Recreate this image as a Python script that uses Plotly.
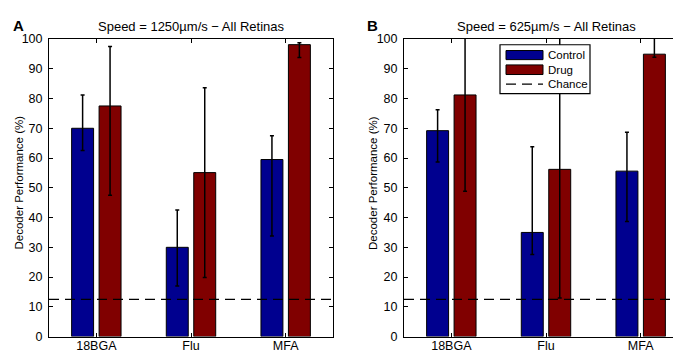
import plotly.graph_objects as go

categories = ["18BGA", "Flu", "MFA"]
cat_pos = [1, 2, 3]

# Panel A: Speed = 1250 um/s
a_control = [70.0, 30.0, 59.5]
a_control_hi = [81.2, 42.5, 67.5]
a_control_lo = [62.5, 17.0, 33.8]
a_drug = [77.5, 55.1, 98.1]
a_drug_hi = [97.5, 83.6, 98.7]
a_drug_lo = [47.5, 19.9, 93.8]

# Panel B: Speed = 625 um/s
b_control = [69.2, 35.0, 55.6]
b_control_hi = [76.2, 63.8, 68.7]
b_control_lo = [58.7, 27.6, 38.7]
b_drug = [81.2, 56.2, 94.9]
b_drug_hi = [106.0, 106.0, 106.0]
b_drug_lo = [48.8, 13.0, 93.9]

chance = 12.5

titles = ["Speed = 1250\u00b5m/s \u2212 All Retinas", "Speed = 625\u00b5m/s \u2212 All Retinas"]
panel_letters = ["A", "B"]
y_title = "Decoder Performance (%)"
y_ticks = [0, 10, 20, 30, 40, 50, 60, 70, 80, 90, 100]

BLUE = "#00008F"
RED = "#800000"
FONT = "Liberation Sans, Arial, Helvetica, sans-serif"

W, H = 681, 350
def px(x):
    return x / W
def py(y):
    return 1 - y / H

fig = go.Figure()

panels = [
    (a_control, a_control_hi, a_control_lo, a_drug, a_drug_hi, a_drug_lo),
    (b_control, b_control_hi, b_control_lo, b_drug, b_drug_hi, b_drug_lo),
]

for i, (c, chi, clo, d, dhi, dlo) in enumerate(panels):
    xa = "x" if i == 0 else "x2"
    ya = "y" if i == 0 else "y2"
    fig.add_trace(go.Bar(
        x=cat_pos, y=c, name="Control", xaxis=xa, yaxis=ya, offsetgroup="c",
        marker=dict(color=BLUE, line=dict(color="black", width=1)),
        error_y=dict(type="data", symmetric=False,
                     array=[h - v for h, v in zip(chi, c)],
                     arrayminus=[v - l for v, l in zip(c, clo)],
                     color="black", thickness=1.5, width=2),
        showlegend=False,
    ))
    fig.add_trace(go.Bar(
        x=cat_pos, y=d, name="Drug", xaxis=xa, yaxis=ya, offsetgroup="d",
        marker=dict(color=RED, line=dict(color="black", width=1)),
        error_y=dict(type="data", symmetric=False,
                     array=[h - v for h, v in zip(dhi, d)],
                     arrayminus=[v - l for v, l in zip(d, dlo)],
                     color="black", thickness=1.5, width=2),
        showlegend=False,
    ))
    fig.add_trace(go.Scatter(
        x=[0.5, 3.5], y=[chance, chance], mode="lines", name="Chance",
        xaxis=xa, yaxis=ya, line=dict(color="black", width=1.3, dash="10px,6px"),
        showlegend=False,
    ))

axis_common = dict(showline=True, linecolor="black", linewidth=1, mirror="ticks",
                   ticks="inside", ticklen=4, tickcolor="black", showgrid=False,
                   zeroline=False,
                   tickfont=dict(family=FONT, size=12.5, color="black"))

xd1 = [px(41), px(325)]
xd2 = [px(396), px(680)]
yd = [py(335), py(25)]

fig.update_layout(
    width=W, height=H,
    margin=dict(l=0, r=0, t=0, b=0),
    paper_bgcolor="white", plot_bgcolor="white",
    barmode="group", bargap=0.42, bargroupgap=0.2,
    font=dict(family=FONT, size=12, color="black"),
    xaxis=dict(domain=xd1, range=[0.5, 3.5], tickvals=cat_pos, ticktext=categories, anchor="y",
               ticklabelstandoff=-3, **axis_common),
    yaxis=dict(domain=yd, range=[0, 100], tickvals=y_ticks, anchor="x", ticklabelstandoff=3, **axis_common),
    xaxis2=dict(domain=xd2, range=[0.5, 3.5], tickvals=cat_pos, ticktext=categories, anchor="y2",
                ticklabelstandoff=-3, **axis_common),
    yaxis2=dict(domain=yd, range=[0, 100], tickvals=y_ticks, anchor="x2", ticklabelstandoff=3, **axis_common),
)

annotations = []
title_cx = [183, 538]
ytitle_x = [10.5, 365]
letter_x = [3, 357]
for i in range(2):
    annotations.append(dict(text=titles[i], x=px(title_cx[i]), y=py(12), xref="paper", yref="paper",
                            xanchor="center", yanchor="middle", showarrow=False,
                            font=dict(family=FONT, size=13, color="black")))
    annotations.append(dict(text=y_title, x=px(ytitle_x[i]), y=py(175), xref="paper", yref="paper",
                            xanchor="center", yanchor="middle", showarrow=False, textangle=-90,
                            font=dict(family=FONT, size=11.5, color="black")))
    annotations.append(dict(text="<b>" + panel_letters[i] + "</b>", x=px(letter_x[i]), y=py(11),
                            xref="paper", yref="paper", xanchor="left", yanchor="middle",
                            showarrow=False, font=dict(family=FONT, size=15, color="black")))

# Legend (manual, in panel B)
legend_labels = ["Control", "Drug", "Chance"]
legend_y = [41.5, 57, 72]
shapes = [dict(type="rect", xref="paper", yref="paper", x0=px(492), x1=px(582), y0=py(31), y1=py(82),
               line=dict(color="black", width=1.2), fillcolor="white", layer="above")]
shapes.append(dict(type="rect", xref="paper", yref="paper", x0=px(498), x1=px(535), y0=py(37), y1=py(46.5),
                   line=dict(color="black", width=1), fillcolor=BLUE, layer="above"))
shapes.append(dict(type="rect", xref="paper", yref="paper", x0=px(498), x1=px(535), y0=py(52), y1=py(62),
                   line=dict(color="black", width=1), fillcolor=RED, layer="above"))
shapes.append(dict(type="line", xref="paper", yref="paper", x0=px(498), x1=px(535), y0=py(72), y1=py(72),
                   line=dict(color="black", width=1.3, dash="10px,6px"), layer="above"))
for lab, ly in zip(legend_labels, legend_y):
    annotations.append(dict(text=lab, x=px(538), y=py(ly), xref="paper", yref="paper",
                            xanchor="left", yanchor="middle", showarrow=False,
                            font=dict(family=FONT, size=11.5, color="black")))

fig.update_layout(annotations=annotations, shapes=shapes)

fig.write_html("out.html")
